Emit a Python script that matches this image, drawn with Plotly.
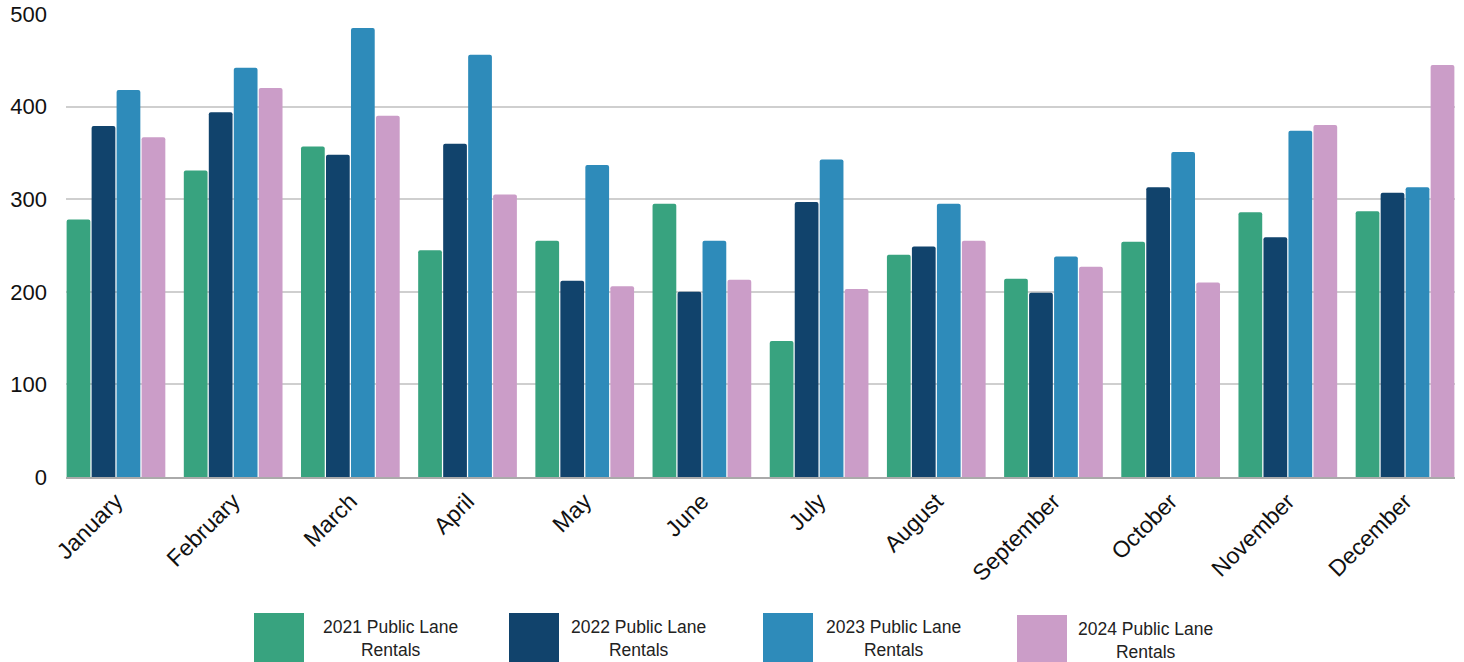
import plotly.graph_objects as go

# Monthly public lane rentals, one series per year
months = ["January", "February", "March", "April", "May", "June",
          "July", "August", "September", "October", "November", "December"]

rentals_2021 = [278, 331, 357, 245, 255, 295, 147, 240, 214, 254, 286, 287]
rentals_2022 = [379, 394, 348, 360, 212, 200, 297, 249, 199, 313, 259, 307]
rentals_2023 = [418, 442, 485, 456, 337, 255, 343, 295, 238, 351, 374, 313]
rentals_2024 = [367, 420, 390, 305, 206, 213, 203, 255, 227, 210, 380, 445]

series_names = ["2021 Public Lane Rentals", "2022 Public Lane Rentals",
                "2023 Public Lane Rentals", "2024 Public Lane Rentals"]
series_values = [rentals_2021, rentals_2022, rentals_2023, rentals_2024]
series_colors = ["#38A37F", "#11436C", "#2E8BBA", "#CB9DC8"]

W, H = 1464, 662
M_L, M_R, M_T, M_B = 66, 9, 14, 185
BARGAP = 0.147

fig = go.Figure()
for name, vals, col in zip(series_names, series_values, series_colors):
    fig.add_trace(go.Bar(
        x=months, y=vals, name=name,
        marker=dict(color=col, line=dict(width=0), cornerradius=2),
        showlegend=False,
    ))

# Custom legend with large swatches below the axis
plot_h = H - M_T - M_B
plot_w = W - M_L - M_R


def px_to_paper_y(py):
    return (H - M_B - py) / plot_h


def px_to_paper_x(px):
    return (px - M_L) / plot_w


legend_swatch_x = [254, 509, 763, 1017]
legend_swatch_y = [613, 613, 613, 615]
legend_text_x = [390, 638, 893, 1145]
shapes = []
annotations = []
for name, col, sx, sy, tx in zip(series_names, series_colors,
                                 legend_swatch_x, legend_swatch_y, legend_text_x):
    shapes.append(dict(
        type="rect", xref="paper", yref="paper",
        x0=px_to_paper_x(sx), x1=px_to_paper_x(sx + 50),
        y0=px_to_paper_y(sy + 52), y1=px_to_paper_y(sy),
        fillcolor=col, line=dict(width=0), layer="above",
    ))
    line1, line2 = name.rsplit(" ", 1)
    annotations.append(dict(
        xref="paper", yref="paper",
        x=px_to_paper_x(tx), y=px_to_paper_y(sy + 25),
        text=f"{line1}<br>{line2}", showarrow=False,
        xanchor="center", yanchor="middle", align="center",
        font=dict(family="Liberation Sans, Arial, sans-serif", size=17.5, color="#222222"),
    ))

fig.update_layout(
    width=W, height=H,
    margin=dict(l=M_L, r=M_R, t=M_T, b=M_B, autoexpand=False),
    paper_bgcolor="white", plot_bgcolor="white",
    barmode="group", bargap=BARGAP, bargroupgap=0.05,
    font=dict(family="Liberation Sans, Arial, sans-serif", size=20, color="#111111"),
    shapes=shapes, annotations=annotations,
    xaxis=dict(
        range=[-0.5 + BARGAP / 2, 11.5 - BARGAP / 2],
        tickangle=-45, showgrid=False, automargin=False,
        showline=True, linecolor="#AAAAAA", linewidth=1.5,
        ticks="", tickfont=dict(size=23, color="#111111"),
    ),
    yaxis=dict(
        range=[0, 500], tickvals=[0, 100, 200, 300, 400, 500],
        showgrid=True, gridcolor="#CFCFCF", gridwidth=1.5, automargin=False,
        zeroline=False, ticks="", ticklabelstandoff=18,
        tickfont=dict(size=22, color="#111111"),
    ),
)

fig.write_html("out.html")
